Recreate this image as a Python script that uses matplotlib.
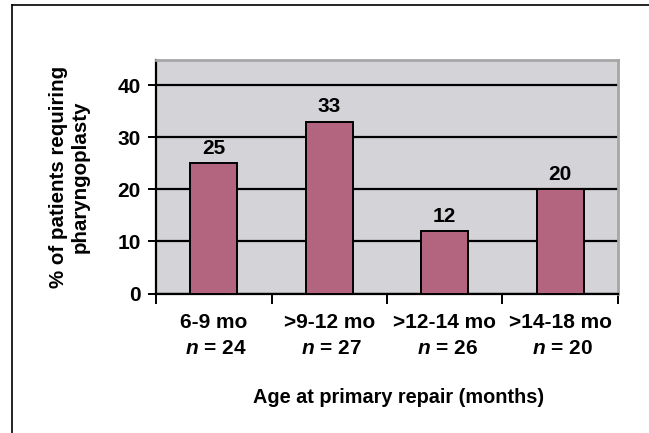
import matplotlib
matplotlib.use("Agg")
import matplotlib.pyplot as plt
from matplotlib.lines import Line2D
import numpy as np

# data
age_groups = ["6-9 mo", ">9-12 mo", ">12-14 mo", ">14-18 mo"]
n_patients = [24, 27, 26, 20]
pct_pharyngoplasty = [25, 33, 12, 20]
y_ticks = [0, 10, 20, 30, 40]

plt.rcParams["font.family"] = ["Liberation Sans", "DejaVu Sans"]
plt.rcParams["mathtext.fontset"] = "custom"
plt.rcParams["mathtext.bfit"] = "Liberation Sans:italic:bold"
plt.rcParams["mathtext.it"] = "Liberation Sans:italic:bold"
plt.rcParams["mathtext.rm"] = "Liberation Sans:bold"

fs = 15
bar_color = "#B3647E"
bg_color = "#D4D3D8"

fig = plt.figure(figsize=(6.49, 4.33), dpi=100)
ax = fig.add_axes([0.2404, 0.3219, 0.7118, 0.5395])
ax.set_facecolor(bg_color)

x = np.arange(len(age_groups))
ax.set_axisbelow(True)
ax.yaxis.grid(True, color="black", linewidth=1.6)
bars = ax.bar(x, pct_pharyngoplasty, width=0.41, color=bar_color,
              edgecolor="black", linewidth=1.4, zorder=3)

for xi, v in zip(x, pct_pharyngoplasty):
    ax.text(xi, v + 1.0, str(v), ha="center", va="bottom",
            fontsize=fs, fontweight="bold")

ax.set_xlim(-0.5, len(age_groups) - 0.5)
ax.set_ylim(0, 44.8)
ax.set_yticks(y_ticks)
ax.set_yticklabels([str(t) for t in y_ticks], fontsize=fs, fontweight="bold")

# tick marks sit between categories, labels sit under the bars
ax.set_xticks(np.arange(len(age_groups) + 1) - 0.5)
ax.set_xticklabels([])
ax.tick_params(axis="x", direction="out", length=7, width=1.4, color="black")
ax.tick_params(axis="y", direction="out", length=6, width=1.4, color="black", pad=5)

for xi, grp, n in zip(x, age_groups, n_patients):
    ax.text(xi, -0.122, grp, transform=ax.get_xaxis_transform(),
            ha="center", va="center", fontsize=15, fontweight="bold")
    ax.text(xi + 0.02, -0.233, r"$\mathbfit{n}$ = " + str(n), transform=ax.get_xaxis_transform(),
            ha="center", va="center", fontsize=15, fontweight="bold")

ax.text(0.5 + 0.025, -0.443, "Age at primary repair (months)", transform=ax.transAxes,
        ha="center", va="center", fontsize=14.3, fontweight="bold")
ax.set_ylabel("% of patients requiring\npharyngoplasty", fontsize=14.8,
              fontweight="bold", labelpad=20, linespacing=1.2)

for side in ["left", "bottom"]:
    ax.spines[side].set_color("black")
    ax.spines[side].set_linewidth(1.6)
for side in ["top", "right"]:
    ax.spines[side].set_color("#A6A6A6")
    ax.spines[side].set_linewidth(2)

# outer frame: left and top edges only
fig.add_artist(Line2D([0.0185, 0.0185], [0.0, 0.9896], transform=fig.transFigure,
                      color="black", linewidth=1.2))
fig.add_artist(Line2D([0.0185, 1.0], [0.9896, 0.9896], transform=fig.transFigure,
                      color="black", linewidth=1.2))

fig.savefig("out.png", dpi=100)
